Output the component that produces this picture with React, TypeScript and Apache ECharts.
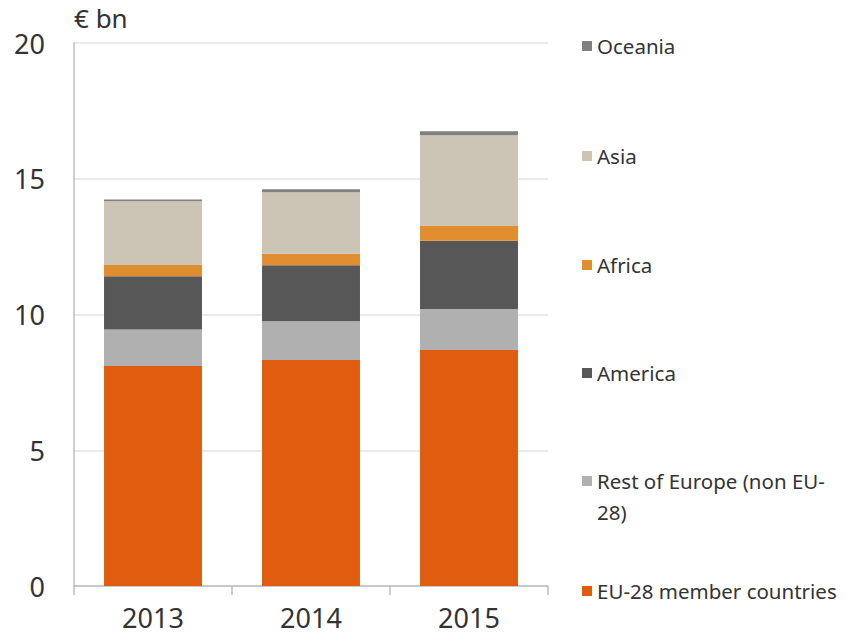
import React, { useEffect, useRef } from "react";
import * as echarts from "echarts";

const years = ["2013", "2014", "2015"];
const seriesNames = [
  "EU-28 member countries",
  "Rest of Europe (non EU-28)",
  "America",
  "Africa",
  "Asia",
  "Oceania",
];
const eu28 = [8.1, 8.32, 8.69];
const restOfEurope = [1.35, 1.43, 1.51];
const america = [1.96, 2.06, 2.52];
const africa = [0.41, 0.43, 0.54];
const asia = [2.35, 2.26, 3.34];
const oceania = [0.07, 0.11, 0.15];
const yTicks = [0, 5, 10, 15, 20];

const colors = ["#E05C0E", "#B0B0B0", "#575757", "#E08E30", "#CCC4B4", "#808080"];
const values = [eu28, restOfEurope, america, africa, asia, oceania];

const FONT = "Noto Sans";

export default function App() {
  const ref = useRef<HTMLDivElement>(null);
  useEffect(() => {
    if (!ref.current) return;
    const chart = echarts.init(ref.current, undefined, { renderer: "svg" });
    const legendCenters = [591, 481, 373, 265, 156, 46];
    const legends = seriesNames.map((name, i) => {
      const isRoE = i === 1;
      const lh = isRoE ? 31 : 24;
      return {
        data: [name],
        orient: "vertical",
        left: 582,
        top: isRoE ? legendCenters[i] - 46.5 : legendCenters[i] - 12,
        padding: 0,
        itemWidth: 10,
        itemHeight: 10,
        itemGap: 0,
        icon: "rect",
        selectedMode: false,
        formatter: isRoE ? () => " \nRest of Europe (non EU-\n28)" : undefined,
        textStyle: {
          fontFamily: FONT,
          fontSize: 20.5,
          color: "#333",
          lineHeight: lh,
        },
      };
    });
    chart.setOption({
      animation: false,
      grid: { left: 74, right: 302, top: 43, bottom: 56, containLabel: false },
      legend: legends,
      graphic: [
        {
          type: "text",
          left: 74,
          top: 5,
          style: { text: "€ bn", fontFamily: FONT, fontSize: 26, fill: "#333" },
        },
      ],
      xAxis: {
        type: "category",
        data: years,
        boundaryGap: true,
        axisLine: { lineStyle: { color: "#BDBDBD", width: 1.5 } },
        axisTick: { show: true, length: 9, lineStyle: { color: "#BDBDBD", width: 1.5 } },
        axisLabel: { fontFamily: FONT, fontSize: 27, color: "#333", margin: 18 },
      },
      yAxis: {
        type: "value",
        min: yTicks[0],
        max: yTicks[yTicks.length - 1],
        interval: 5,
        axisLine: { show: true, lineStyle: { color: "#BDBDBD", width: 1.5 } },
        axisTick: { show: false },
        splitLine: { lineStyle: { color: "#E3E3E3", width: 1.5 } },
        axisLabel: { fontFamily: FONT, fontSize: 27, color: "#333", margin: 29 },
      },
      series: seriesNames.map((name, i) => ({
        name,
        type: "bar",
        stack: "total",
        barWidth: "62%",
        data: values[i],
        itemStyle: { color: colors[i] },
      })),
    });
    return () => chart.dispose();
  }, []);
  return <div ref={ref} style={{ width: 850, height: 642, margin: -8 }} />;
}
